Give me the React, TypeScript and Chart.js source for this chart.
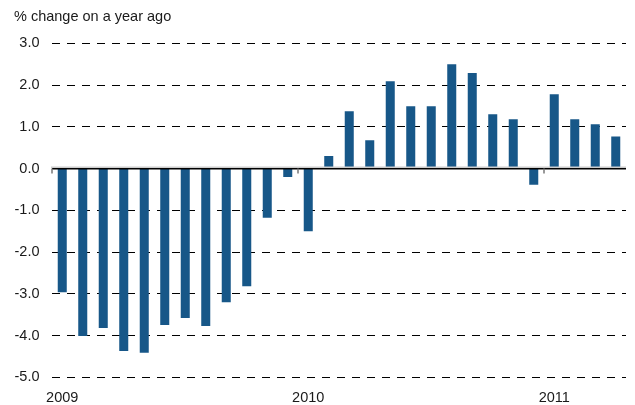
import React, { useEffect, useRef } from "react";
import { Chart, registerables } from "chart.js";

Chart.register(...registerables);

const months = [
  "Jan 2009", "Feb 2009", "Mar 2009", "Apr 2009", "May 2009", "Jun 2009",
  "Jul 2009", "Aug 2009", "Sep 2009", "Oct 2009", "Nov 2009", "Dec 2009",
  "Jan 2010", "Feb 2010", "Mar 2010", "Apr 2010", "May 2010", "Jun 2010",
  "Jul 2010", "Aug 2010", "Sep 2010", "Oct 2010", "Nov 2010", "Dec 2010",
  "Jan 2011", "Feb 2011", "Mar 2011", "Apr 2011",
];

const changeValues = [
  -2.96, -4.01, -3.82, -4.37, -4.41, -3.75, -3.58, -3.77, -3.2, -2.82, -1.18, -0.2,
  -1.5, 0.3, 1.37, 0.68, 2.09, 1.49, 1.49, 2.5, 2.29, 1.3, 1.18, -0.39,
  1.78, 1.18, 1.06, 0.77,
];

const yearLabels = ["2009", "2010", "2011"];
const yTicks = [-5, -4, -3, -2, -1, 0, 1, 2, 3];
const titleText = "% change on a year ago";

const FONT = "'Liberation Sans', Arial, sans-serif";

export default function App() {
  const ref = useRef<HTMLCanvasElement>(null);

  useEffect(() => {
    if (!ref.current) return;
    const overlay = {
      id: "overlay",
      afterDatasetsDraw(chart: any) {
        const ctx = chart.ctx;
        const x = chart.scales.x;
        const y = chart.scales.y;
        const area = chart.chartArea;
        const y0 = y.getPixelForValue(0);
        const step = x.getPixelForValue(1) - x.getPixelForValue(0);
        ctx.save();
        // zero line
        ctx.strokeStyle = "rgb(205,205,205)";
        ctx.lineWidth = 1.5;
        ctx.beginPath();
        ctx.moveTo(area.left - 1, y0 - 1.2);
        ctx.lineTo(area.right, y0 - 1.2);
        ctx.stroke();
        ctx.strokeStyle = "#000";
        ctx.lineWidth = 1.4;
        ctx.beginPath();
        ctx.moveTo(area.left, y0 + 0.2);
        ctx.lineTo(area.right, y0 + 0.2);
        ctx.stroke();
        // year boundary ticks
        ctx.strokeStyle = "#777";
        ctx.lineWidth = 1.5;
        months.forEach((_m, i) => {
          if (i % 12 === 0) {
            const px = x.getPixelForValue(i) - step / 2;
            ctx.beginPath();
            ctx.moveTo(px, y0);
            ctx.lineTo(px, y0 + 5);
            ctx.stroke();
          }
        });
        // title
        ctx.fillStyle = "#1a1a1a";
        ctx.font = `14.5px ${FONT}`;
        ctx.textAlign = "left";
        ctx.textBaseline = "alphabetic";
        ctx.fillText(titleText, 14, 21);
        ctx.restore();
      },
    };

    const chart = new Chart(ref.current, {
      type: "bar",
      data: {
        labels: months,
        datasets: [
          {
            data: changeValues,
            backgroundColor: "#175788",
            borderWidth: 0,
            barPercentage: 0.44,
            categoryPercentage: 1,
          },
        ],
      },
      options: {
        responsive: false,
        animation: false,
        devicePixelRatio: 1,
        layout: { padding: { top: 43.3, right: 9, left: 0, bottom: 0 } },
        plugins: { legend: { display: false }, tooltip: { enabled: false }, title: { display: false } },
        scales: {
          x: {
            type: "category",
            offset: true,
            grid: { display: false, drawTicks: false },
            border: { display: false },
            ticks: {
              autoSkip: false,
              maxRotation: 0,
              minRotation: 0,
              padding: 12,
              color: "#1a1a1a",
              font: { family: FONT, size: 14.5 },
              callback: (_v: any, i: number) => (i % 12 === 0 ? yearLabels[i / 12] : ""),
            },
            afterFit: (s: any) => {
              s.height = 27.7;
            },
          },
          y: {
            min: yTicks[0],
            max: yTicks[yTicks.length - 1],
            afterBuildTicks: (s: any) => {
              s.ticks = yTicks.map((v) => ({ value: v }));
            },
            grid: {
              drawTicks: false,
              color: (c: any) => (c.tick && c.tick.value === 0 ? "rgba(0,0,0,0)" : "#000"),
              lineWidth: 1,
            },
            border: { display: false, dash: [8, 7] },
            ticks: {
              padding: 12.5,
              color: "#1a1a1a",
              font: { family: FONT, size: 14.5 },
              callback: (v: any) => Number(v).toFixed(1),
            },
            afterFit: (s: any) => {
              s.width = 52;
            },
          },
        },
      },
      plugins: [overlay],
    });
    return () => chart.destroy();
  }, []);

  return (
    <div style={{ position: "fixed", left: 0, top: 0, width: 635, height: 405, background: "#fff" }}>
      <canvas ref={ref} width={635} height={405} style={{ display: "block", width: 635, height: 405 }} />
    </div>
  );
}
